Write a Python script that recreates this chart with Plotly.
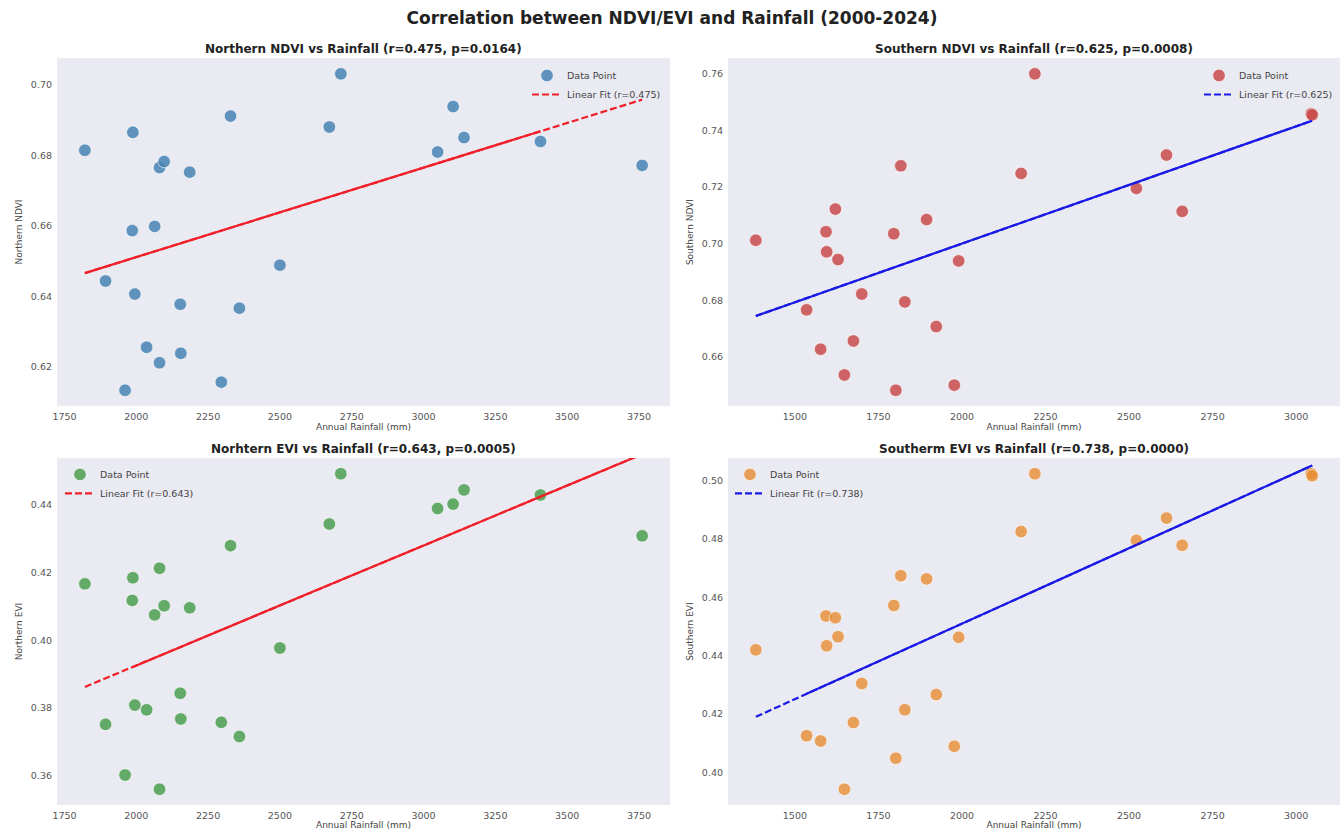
import numpy as np
import plotly.graph_objects as go

# ---------------- data ----------------
north_rain = [1821, 1893, 1961, 1988, 1986, 1995, 2036, 2064, 2081, 2081, 2097, 2153, 2155,
              2186, 2296, 2328, 2359, 2500, 2672, 2712, 3049, 3103, 3141, 3407, 3761]
north_ndvi = [0.6815, 0.6444, 0.6134, 0.6866, 0.6587, 0.6407, 0.6256, 0.6599, 0.6212, 0.6766,
              0.6783, 0.6378, 0.6239, 0.6753, 0.6157, 0.6912, 0.6367, 0.6489, 0.6881, 0.7032,
              0.6810, 0.6939, 0.6851, 0.6840, 0.6772]
north_evi = [0.4167, 0.3751, 0.3601, 0.4185, 0.4118, 0.3808, 0.3794, 0.4075, 0.3559, 0.4213,
             0.4102, 0.3843, 0.3767, 0.4096, 0.3757, 0.4280, 0.3715, 0.3977, 0.4344, 0.4493,
             0.4390, 0.4403, 0.4445, 0.4430, 0.4309]

south_rain = [1383, 1535, 1577, 1593, 1595, 1621, 1629, 1648, 1675, 1700, 1796, 1802, 1817,
              1829, 1894, 1923, 1977, 1990, 2177, 2218, 2522, 2612, 2659, 3045, 3048]
south_ndvi = [0.7012, 0.6766, 0.6627, 0.7042, 0.6971, 0.7122, 0.6944, 0.6536, 0.6656, 0.6822,
              0.7035, 0.6482, 0.7275, 0.6794, 0.7085, 0.6707, 0.6500, 0.6939, 0.7248, 0.7600,
              0.7195, 0.7313, 0.7114, 0.7459, 0.7455]
south_evi = [0.4420, 0.4126, 0.4108, 0.4536, 0.4434, 0.4530, 0.4465, 0.3943, 0.4171, 0.4305,
             0.4572, 0.4049, 0.4674, 0.4215, 0.4663, 0.4267, 0.4090, 0.4463, 0.4825, 0.5023,
             0.4795, 0.4871, 0.4778, 0.5023, 0.5016]

titles = ["Northern NDVI vs Rainfall (r=0.475, p=0.0164)",
          "Southern NDVI vs Rainfall (r=0.625, p=0.0008)",
          "Norhtern EVI vs Rainfall (r=0.643, p=0.0005)",
          "Southerm EVI vs Rainfall (r=0.738, p=0.0000)"]
y_labels = ["Northern NDVI", "Southern NDVI", "Northern EVI", "Southern EVI"]
fit_labels = ["Linear Fit (r=0.475)", "Linear Fit (r=0.625)",
              "Linear Fit (r=0.643)", "Linear Fit (r=0.738)"]
suptitle = "Correlation between NDVI/EVI and Rainfall (2000-2024)"

# ---------------- styling ----------------
FONT = "DejaVu Sans, Liberation Sans, Arial, sans-serif"
BG = "#EAEAF2"
W, H = 1344, 833
ML, MR, MT, MB = 57, 4, 58, 26
PW, PH = W - ML - MR, H - MT - MB

def px_x(p):
    return (p - ML) / PW

def px_y(p):
    return (H - MB - p) / PH

col_dom = [[0, px_x(670)], [px_x(728), 1]]
row_dom = [[px_y(407), 1], [0, px_y(459)]]

panels = [
    dict(x=north_rain, y=north_ndvi, color="rgba(70,130,180,0.85)", line="#F0202A",
         solid=(0, 23), legend_pos=(px_x(666), px_y(61), "right")),
    dict(x=south_rain, y=south_ndvi, color="rgba(200,75,75,0.85)", line="#1A1AE6",
         solid=(0, 24), legend_pos=(px_x(1338), px_y(61), "right")),
    dict(x=north_rain, y=north_evi, color="rgba(60,150,65,0.78)", line="#F0202A",
         solid=(3, 24), legend_pos=(px_x(60), px_y(461), "left")),
    dict(x=south_rain, y=south_evi, color="rgba(230,140,50,0.80)", line="#1A1AE6",
         solid=(1, 24), legend_pos=(px_x(730), px_y(461), "left")),
]

fig = go.Figure()
annotations = []

for i, p in enumerate(panels):
    r, c = divmod(i, 2)
    ax = "" if i == 0 else str(i + 1)
    xa, ya = "x" + ax, "y" + ax
    leg = "legend" if i == 0 else "legend" + str(i + 1)

    x = np.array(p["x"], dtype=float)
    y = np.array(p["y"], dtype=float)
    order = np.argsort(x, kind="stable")
    xs = x[order]
    slope, icpt = np.polyfit(x, y, 1)

    fig.add_trace(go.Scatter(
        x=x, y=y, mode="markers", name="Data Point", xaxis=xa, yaxis=ya, legend=leg,
        marker=dict(size=12.5, color=p["color"], line=dict(color="rgba(255,255,255,0.6)", width=1)),
    ))
    fig.add_trace(go.Scatter(
        x=xs, y=slope * xs + icpt, mode="lines", name=fit_labels[i], xaxis=xa, yaxis=ya,
        legend=leg, line=dict(color=p["line"], width=2.2, dash="7px,3px"),
    ))
    a, b = p["solid"]
    xsol = xs[a:b + 1]
    fig.add_trace(go.Scatter(
        x=xsol, y=slope * xsol + icpt, mode="lines", showlegend=False, xaxis=xa, yaxis=ya,
        line=dict(color=p["line"], width=2.2), hoverinfo="skip",
    ))

    xspan = x.max() - x.min()
    yspan = y.max() - y.min()
    xr = [x.min() - 0.05 * xspan, x.max() + 0.05 * xspan]
    yr = [y.min() - 0.05 * yspan, y.max() + 0.05 * yspan]

    common = dict(showgrid=False, zeroline=False, showline=False, ticks="",
                  tickfont=dict(family=FONT, size=9.5, color="#555555"))
    fig.layout["xaxis" + ax] = dict(
        domain=col_dom[c], anchor=ya, range=xr, dtick=250, tick0=0,
        title=dict(text="Annual Rainfall (mm)", font=dict(family=FONT, size=9, color="#444444"),
                   standoff=2),
        ticklabelstandoff=3, **common)
    fig.layout["yaxis" + ax] = dict(
        domain=row_dom[r], anchor=xa, range=yr, dtick=0.02, tick0=0, tickformat=".2f",
        title=dict(text=y_labels[i], font=dict(family=FONT, size=9, color="#444444"),
                   standoff=6),
        ticklabelstandoff=4, **common)

    lx, ly, side = p["legend_pos"]
    fig.layout[leg] = dict(
        x=lx, y=ly, xanchor=side, yanchor="top", bgcolor="rgba(0,0,0,0)",
        font=dict(family=FONT, size=9.5, color="#444444"), tracegroupgap=0,
        itemwidth=30, borderwidth=0,
    )

    annotations.append(dict(
        text="<b>" + titles[i] + "</b>", xref="paper", yref="paper",
        x=(col_dom[c][0] + col_dom[c][1]) / 2, y=row_dom[r][1] + 9 / PH,
        xanchor="center", yanchor="middle", showarrow=False,
        font=dict(family=FONT, size=12, color="#222222"),
    ))

fig.update_layout(
    width=W, height=H,
    margin=dict(l=ML, r=MR, t=MT, b=MB),
    paper_bgcolor="white", plot_bgcolor=BG,
    title=dict(text="<b>" + suptitle + "</b>", x=0.5, xanchor="center", y=1 - 18 / H,
               yanchor="middle", xref="container", yref="container",
               font=dict(family=FONT, size=17, color="#222222")),
    annotations=annotations,
    showlegend=True,
)

fig.write_html("out.html", config={"displayModeBar": False},
               post_script="document.body.style.margin='0px';document.body.style.overflow='hidden';")
